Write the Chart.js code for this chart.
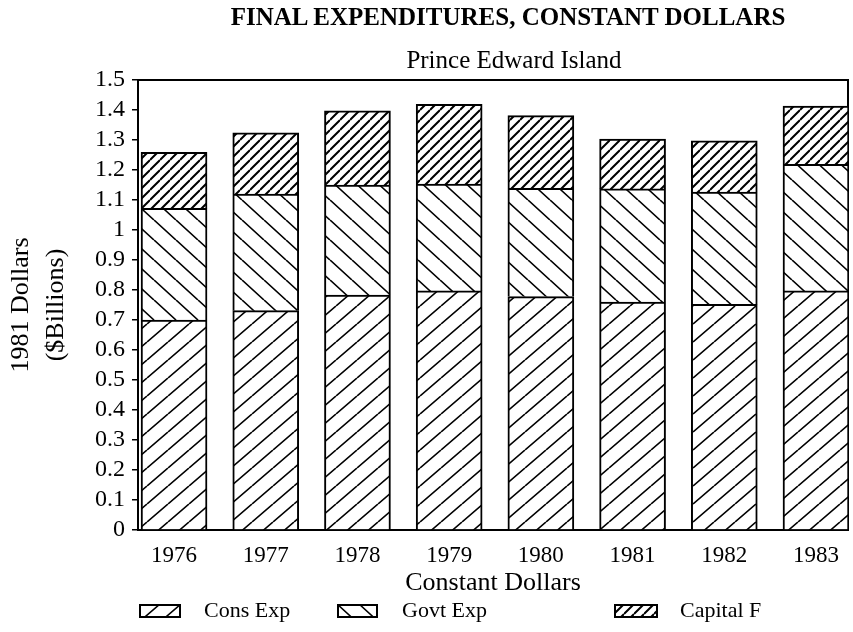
<!DOCTYPE html>
<html>
<head>
<meta charset="utf-8">
<script src="https://cdn.jsdelivr.net/npm/chart.js@4.4.1/dist/chart.umd.min.js"></script>
<style>
  body { margin: 0; background: #fff; }
  #wrap { position: relative; width: 853px; height: 632px; font-family: "Liberation Serif", serif; color: #000; }
  #chart { position: absolute; left: 0; top: 0; }
  .centered { position: absolute; white-space: nowrap; transform: translate(-50%, -50%); }
  #title { left: 508px; top: 17px; font-size: 25px; font-weight: bold; }
  #subtitle { left: 514px; top: 60px; font-size: 25px; }
  .swatch { position: absolute; top: 604px; }
  .legtext { position: absolute; top: 610px; font-size: 22px; transform: translateY(-50%); white-space: nowrap; }
</style>
</head>
<body>
<div id="wrap">
  <canvas id="chart" width="853" height="632"></canvas>
  <div id="title" class="centered">FINAL EXPENDITURES, CONSTANT DOLLARS</div>
  <div id="subtitle" class="centered">Prince Edward Island</div>
  <div id="legend"></div>
</div>
<script>
// values, $ billions (1981 dollars)
const years = [1976, 1977, 1978, 1979, 1980, 1981, 1982, 1983];
const consExp = [0.700, 0.731, 0.783, 0.797, 0.778, 0.760, 0.752, 0.797];
const govtExp = [0.372, 0.389, 0.367, 0.356, 0.361, 0.377, 0.374, 0.422];
const capitalF = [0.187, 0.204, 0.247, 0.266, 0.242, 0.166, 0.171, 0.194];
const seriesNames = ["Cons Exp", "Govt Exp", "Capital F"];
const yTickStep = 0.1;

const FONT = "'Liberation Serif', serif";

// hatch tile: one diagonal line per w x h tile, dir 1 = "/", -1 = "\"
function hatchTile(w, h, lw, dir) {
  const c = document.createElement("canvas");
  c.width = w; c.height = h;
  const g = c.getContext("2d");
  g.fillStyle = "#fff";
  g.fillRect(0, 0, w, h);
  g.strokeStyle = "#000";
  g.lineWidth = lw;
  g.beginPath();
  for (let k = -1; k <= 1; k++) {
    if (dir > 0) { g.moveTo(0, h + k * h); g.lineTo(w, k * h); }
    else { g.moveTo(0, k * h); g.lineTo(w, h + k * h); }
  }
  g.stroke();
  return c;
}
const tiles = [hatchTile(21, 18, 1.6, 1), hatchTile(22, 20, 1.6, -1), hatchTile(10, 10, 2, 1)];

const canvas = document.getElementById("chart");
const ctx = canvas.getContext("2d");
const patterns = tiles.map(t => ctx.createPattern(t, "repeat"));

const toPoints = arr => arr.map((v, i) => ({ x: years[i], y: v }));
const series = [consExp, govtExp, capitalF];

const xMin = 1975.607, xMax = 1983.349;

const frameAxis = (position, axisMin, axisMax) => ({
  type: "linear", position: position, min: axisMin, max: axisMax, offset: false,
  ticks: { display: false },
  grid: { drawOnChartArea: false, drawTicks: false },
  border: { display: true, color: "#000", width: 2 },
  afterFit: s => { if (s.isHorizontal()) s.height = 0; else s.width = 0; }
});

new Chart(ctx, {
  type: "bar",
  data: {
    datasets: series.map((vals, i) => ({
      label: seriesNames[i],
      data: toPoints(vals),
      backgroundColor: patterns[i],
      borderColor: "#000",
      borderWidth: 2,
      barThickness: 66,
      xAxisID: "x",
      yAxisID: "y"
    }))
  },
  options: {
    responsive: false,
    animation: false,
    events: [],
    layout: { padding: { top: 80, right: 5, bottom: 30, left: 0 } },
    plugins: { legend: { display: false }, title: { display: false }, tooltip: { enabled: false } },
    scales: {
      x: {
        type: "linear", position: "bottom", stacked: true, offset: false,
        min: xMin, max: xMax,
        ticks: {
          stepSize: 1, includeBounds: false, autoSkip: false, maxRotation: 0,
          padding: 12, color: "#000",
          font: { family: FONT, size: 23 },
          callback: v => String(v)
        },
        grid: { drawOnChartArea: false, drawTicks: false },
        border: { color: "#000", width: 2 },
        title: { display: true, text: "Constant Dollars", color: "#000", padding: { top: 0, bottom: 3 },
                 font: { family: FONT, size: 26 } },
        afterFit: s => { s.height = 72; }
      },
      y: {
        stacked: true, min: 0, max: 1.5,
        ticks: {
          stepSize: yTickStep, padding: 7, color: "#000", autoSkip: false,
          font: { family: FONT, size: 24 },
          callback: v => String(Math.round(v * 10) / 10)
        },
        grid: { drawOnChartArea: false, drawTicks: true, tickLength: 6, color: "#000", lineWidth: 1.5 },
        border: { color: "#000", width: 2 },
        title: { display: true, text: ["1981 Dollars", "($Billions)"], color: "#000",
                 padding: { top: 4, bottom: 0 },
                 font: { family: FONT, size: 26, lineHeight: 1.35 } },
        afterFit: s => { s.width = 138; }
      },
      xTop: frameAxis("top", xMin, xMax),
      yRight: frameAxis("right", 0, 1.5)
    }
  }
});

// legend
const legendBoxes = [{ x: 139, w: 42, tx: 204 }, { x: 337, w: 41, tx: 402 }, { x: 614, w: 44, tx: 680 }];
const legend = document.getElementById("legend");
seriesNames.forEach((name, i) => {
  const b = legendBoxes[i];
  const sw = document.createElement("canvas");
  sw.width = b.w; sw.height = 14;
  sw.className = "swatch";
  sw.style.left = b.x + "px";
  const g = sw.getContext("2d");
  g.fillStyle = g.createPattern(tiles[i], "repeat");
  g.fillRect(0, 0, b.w, 14);
  g.strokeStyle = "#000"; g.lineWidth = 2;
  g.strokeRect(1, 1, b.w - 2, 12);
  legend.appendChild(sw);
  const t = document.createElement("div");
  t.className = "legtext";
  t.style.left = b.tx + "px";
  t.textContent = name;
  legend.appendChild(t);
});
</script>
</body>
</html>
